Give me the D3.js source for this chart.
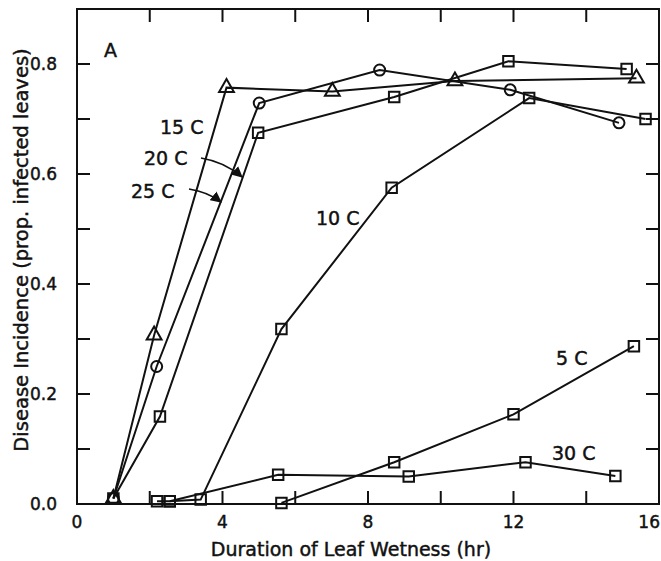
<!doctype html>
<html lang="en">
  <head>
    <meta charset="utf-8">
    <title>Disease incidence vs leaf wetness</title>
    <script src="https://d3js.org/d3.v7.min.js"></script>
    <style>
    body { margin: 0; background: #fff; }
    text { font-family: "DejaVu Sans", sans-serif; fill: #111; stroke: #111; stroke-width: 0.45; }
    .series path { fill: none; stroke: #111; stroke-width: 2; }
    .mark { fill: #fff; stroke: #111; stroke-width: 2; }
    </style>
  </head>

  <body>
    <svg width="661" height="561"></svg>

    <script>
      // values: [hours, proportion]
      var t15 = [[1.0, 0.01], [2.12, 0.307], [4.11, 0.757], [7.02, 0.75], [10.39, 0.769], [15.38, 0.774]];
      var t20 = [[1.0, 0.01], [2.19, 0.25], [5.01, 0.729], [8.32, 0.789], [11.91, 0.753], [14.9, 0.693]];
      var t25 = [[1.0, 0.01], [2.28, 0.159], [4.98, 0.675], [8.72, 0.74], [11.86, 0.805], [15.11, 0.791]];
      var t10 = [[2.55, 0.005], [3.4, 0.008], [5.62, 0.318], [8.65, 0.575], [12.43, 0.738], [15.63, 0.70]];
      var t5  = [[5.62, 0.002], [8.72, 0.076], [12.0, 0.163], [15.31, 0.287]];
      var t30 = [[2.2, 0.005], [2.55, 0.005], [5.53, 0.053], [9.12, 0.05], [12.33, 0.076], [14.8, 0.051]];

      var xTickLabels = [0, 4, 8, 12, 16];
      var yTickLabels = [0, 0.2, 0.4, 0.6, 0.8];

      var series = [
        { name: '15 C', data: t15, shape: 'triangle' },
        { name: '20 C', data: t20, shape: 'circle' },
        { name: '25 C', data: t25, shape: 'square' },
        { name: '10 C', data: t10, shape: 'square' },
        { name: '5 C',  data: t5,  shape: 'square' },
        { name: '30 C', data: t30, shape: 'square' }
      ];

      var svg = d3.select('svg');

      var x = d3.scaleLinear().domain([0, 16]).range([77, 659]);
      var y = d3.scaleLinear().domain([0, 0.9]).range([504, 9]);

      // frame
      svg.append('rect')
        .attr('x', x(0)).attr('y', y(0.9))
        .attr('width', x(16) - x(0)).attr('height', y(0) - y(0.9))
        .attr('fill', 'none').attr('stroke', '#111').attr('stroke-width', 2);

      // inward ticks on all four sides
      var tickLen = 13;
      var g = svg.append('g').attr('stroke', '#111').attr('stroke-width', 2);
      d3.range(2, 16, 2).forEach(function(v){
        g.append('line').attr('x1', x(v)).attr('x2', x(v)).attr('y1', y(0)).attr('y2', y(0) - tickLen);
        g.append('line').attr('x1', x(v)).attr('x2', x(v)).attr('y1', y(0.9)).attr('y2', y(0.9) + tickLen);
      });
      d3.range(1, 9).forEach(function(i){
        var v = i / 10;
        g.append('line').attr('x1', x(0)).attr('x2', x(0) + tickLen).attr('y1', y(v)).attr('y2', y(v));
        g.append('line').attr('x1', x(16)).attr('x2', x(16) - tickLen).attr('y1', y(v)).attr('y2', y(v));
      });

      // tick labels (the last one is pushed in so it stays on the page)
      svg.selectAll('.xl').data(xTickLabels).enter().append('text')
        .attr('x', function(d){ return d === 16 ? 660 : x(d); }).attr('y', 528)
        .attr('text-anchor', function(d){ return d === 16 ? 'end' : 'middle'; })
        .attr('font-size', 17)
        .text(function(d){ return d; });
      svg.selectAll('.yl').data(yTickLabels).enter().append('text')
        .attr('x', 57).attr('y', function(d){ return y(d) + 6; })
        .attr('text-anchor', 'end').attr('font-size', 17)
        .text(function(d){ return d.toFixed(1); });

      // axis titles
      svg.append('text')
        .attr('x', 351).attr('y', 556).attr('text-anchor', 'middle').attr('font-size', 19)
        .text('Duration of Leaf Wetness (hr)');
      svg.append('text')
        .attr('transform', 'translate(28,250) rotate(-90)').attr('text-anchor', 'middle').attr('font-size', 19.5)
        .text('Disease Incidence (prop. infected leaves)');

      // lines
      var line = d3.line().x(function(d){ return x(d[0]); }).y(function(d){ return y(d[1]); });
      var sg = svg.selectAll('.series').data(series).enter().append('g').attr('class', 'series');
      sg.append('path').attr('d', function(s){ return line(s.data); });

      // markers
      var sym = { triangle: d3.symbolTriangle, circle: d3.symbolCircle, square: d3.symbolSquare };
      var size = { triangle: 95, circle: 95, square: 110 };
      sg.each(function(s){
        d3.select(this).selectAll('.mark').data(s.data).enter().append('path')
          .attr('class', 'mark')
          .attr('transform', function(d){ return 'translate(' + x(d[0]) + ',' + y(d[1]) + ')'; })
          .attr('d', d3.symbol().type(sym[s.shape]).size(size[s.shape]));
      });

      // labels
      var labels = [
        { t: 'A', x: 104, y: 57 },
        { t: '15 C', x: 160, y: 134 },
        { t: '20 C', x: 144, y: 165 },
        { t: '25 C', x: 131, y: 198 },
        { t: '10 C', x: 316, y: 225 },
        { t: '5 C', x: 556, y: 365 },
        { t: '30 C', x: 552, y: 460 }
      ];
      svg.selectAll('.lab').data(labels).enter().append('text')
        .attr('x', function(d){ return d.x; }).attr('y', function(d){ return d.y; })
        .attr('font-size', 19)
        .text(function(d){ return d.t; });

      // arrows from the 20 C and 25 C labels
      svg.append('defs').append('marker')
        .attr('id', 'ah').attr('viewBox', '0 0 10 10').attr('refX', 9).attr('refY', 5)
        .attr('markerWidth', 7).attr('markerHeight', 7).attr('orient', 'auto')
        .append('path').attr('d', 'M0,0 L10,5 L0,10 z').attr('fill', '#111');
      svg.append('path').attr('d', 'M201,158 Q225,162 242,177')
        .attr('fill', 'none').attr('stroke', '#111').attr('stroke-width', 1.6).attr('marker-end', 'url(#ah)');
      svg.append('path').attr('d', 'M189,189 Q208,192 221,202')
        .attr('fill', 'none').attr('stroke', '#111').attr('stroke-width', 1.6).attr('marker-end', 'url(#ah)');
    </script>
  </body>
</html>
